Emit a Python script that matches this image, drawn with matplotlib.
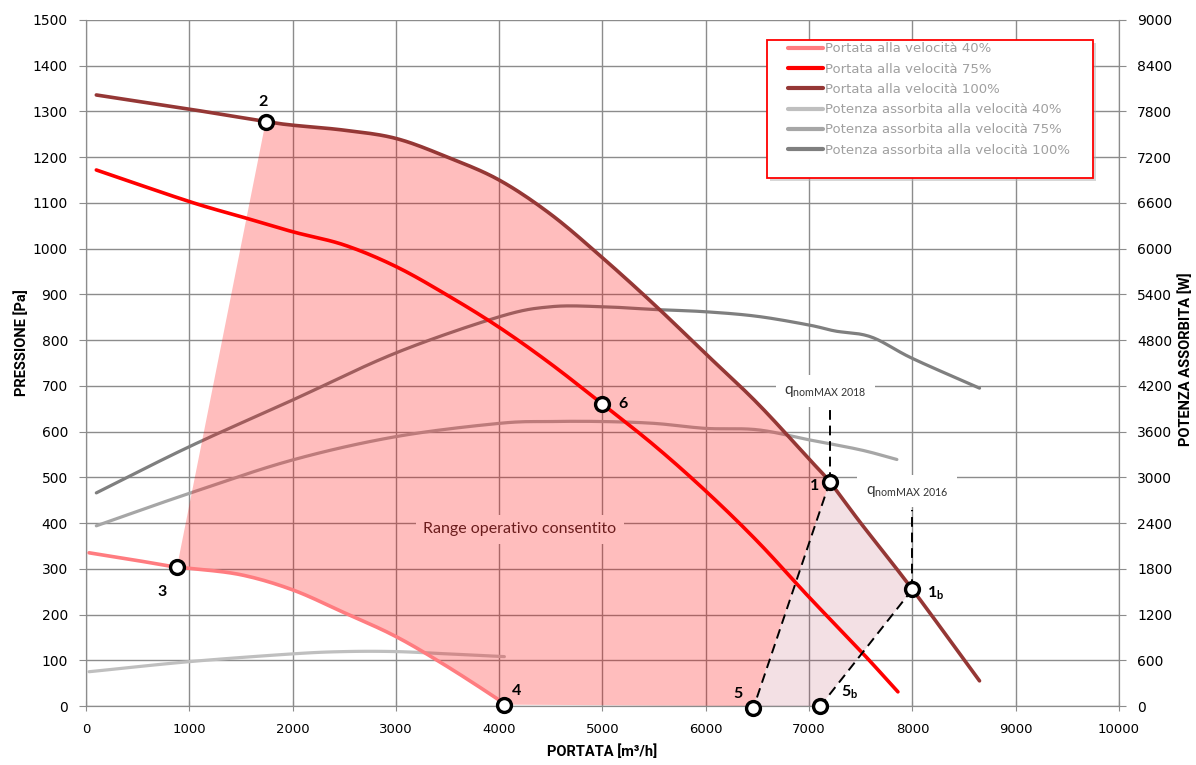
import numpy as np
import matplotlib
matplotlib.use('Agg')
from matplotlib import pyplot as plt
from matplotlib.patches import Rectangle

plt.rcParams['font.family'] = ['DejaVu Sans']
plt.rcParams['mathtext.fontset'] = 'custom'
plt.rcParams['mathtext.rm'] = 'Lato'
plt.rcParams['mathtext.it'] = 'Lato:italic'
plt.rcParams['mathtext.bf'] = 'Lato:bold'

# portata (pressione [Pa] vs portata [m3/h])
q40 = [30, 500, 880, 1000, 1500, 2000, 2500, 3000, 3500, 4000, 4050]
p40 = [335, 318, 303, 301, 287, 254, 204, 152, 86, 13, 3]
q75 = [100, 1000, 1500, 2000, 2500, 3000, 3500, 4000, 4500, 5000, 5500, 6000, 6500, 7000, 7500, 7860]
p75 = [1172, 1103, 1070, 1037, 1008, 961, 898, 828, 748, 660, 570, 470, 360, 238, 120, 31]
q100 = [100, 1000, 1740, 2000, 2500, 3000, 3500, 4000, 4500, 5000, 5500, 6000, 6500, 7000, 7200, 7500, 8000, 8650]
p100 = [1336, 1305, 1278, 1270, 1259, 1241, 1200, 1150, 1075, 980, 878, 770, 662, 540, 490, 400, 255, 55]

# potenza assorbita [W]
qw40 = [30, 1000, 2000, 2500, 3000, 3500, 4050]
w40 = [450, 582, 684, 714, 714, 684, 648]
qw75 = [100, 1000, 2000, 3000, 4000, 4500, 5000, 5500, 6000, 6500, 7000, 7500, 7850]
w75 = [2364, 2790, 3228, 3534, 3708, 3732, 3732, 3708, 3642, 3624, 3492, 3360, 3234]
qw100 = [100, 1000, 2000, 3000, 4000, 4500, 5000, 5500, 6000, 6500, 7000, 7250, 7600, 8000, 8650]
w100 = [2796, 3402, 4014, 4632, 5106, 5238, 5238, 5202, 5172, 5112, 4998, 4920, 4842, 4560, 4170]

# punti di lavoro
pt_names = ['1', '1b', '2', '3', '4', '5', '5b', '6']
pt_q = [7200, 8000, 1740, 880, 4050, 6460, 7110, 5000]
pt_p = [490, 255, 1278, 303, 3, -5, 0, 660]
pt_lab = ['1', r'1$_{\mathbf{b}}$', '2', '3', '4', '5', r'5$_{\mathbf{b}}$', '6']
pt_off = [(-11, -3), (17, -3), (-2, 14), (-11, -18), (9, 10), (-11, 10), (21, 10), (15, 0)]

# limiti qnomMAX
qnom_q = [7200, 8000]
qnom_top = [647, 429]
qnom_lab = [r'q$_{\mathrm{nomMAX\ 2018}}$', r'q$_{\mathrm{nomMAX\ 2016}}$']
qnom_y = [688, 470]

leg_labels = ['Portata alla velocità 40%', 'Portata alla velocità 75%', 'Portata alla velocità 100%',
              'Potenza assorbita alla velocità 40%', 'Potenza assorbita alla velocità 75%',
              'Potenza assorbita alla velocità 100%']


def smooth(x, y, n=16):
    # linea smussata tipo Excel (Catmull-Rom) passante per i punti
    pts = np.column_stack([x, y]).astype(float)
    pts = np.vstack([2 * pts[0] - pts[1], pts, 2 * pts[-1] - pts[-2]])
    t = np.linspace(0, 1, n, endpoint=False)[:, None]
    out = []
    for i in range(1, len(pts) - 2):
        p0, p1, p2, p3 = pts[i - 1], pts[i], pts[i + 1], pts[i + 2]
        seg = 0.5 * ((2 * p1) + (-p0 + p2) * t + (2 * p0 - 5 * p1 + 4 * p2 - p3) * t ** 2
                     + (-p0 + 3 * p1 - 3 * p2 + p3) * t ** 3)
        out.append(seg)
    out.append(pts[-2][None, :])
    out = np.vstack(out)
    return out[:, 0], out[:, 1]


fig = plt.figure(figsize=(11.96, 7.65), dpi=100)
fig.subplots_adjust(left=0.0719, right=0.9356, bottom=0.0771, top=0.9739)
axw = fig.add_subplot(111)
axp = axw.twinx()
axw.yaxis.tick_right()
axw.yaxis.set_label_position('right')
axp.yaxis.tick_left()
axp.yaxis.set_label_position('left')

gridc = '#8c8c8c'
axw.set_xlim(0, 10000)
axw.set_xticks(np.arange(0, 10001, 1000))
axw.set_ylim(0, 9000)
axw.set_yticks(np.arange(0, 9001, 600))
axp.set_ylim(0, 1500)
axp.set_yticks(np.arange(0, 1501, 100))
axw.grid(True, color=gridc, lw=1.0)
axw.set_axisbelow(True)

for a in (axw, axp):
    for s in a.spines.values():
        s.set_color(gridc)
    a.spines['top'].set_visible(False)
axw.tick_params(axis='y', direction='out', length=5, color=gridc, labelsize=10, pad=8)
axp.tick_params(axis='y', direction='out', length=5, color=gridc, labelsize=10, pad=8)
axw.tick_params(axis='x', direction='inout', length=7, color=gridc, labelsize=9.5, pad=9)

# curve potenza (sotto le aree)
lw40, = axw.plot(*smooth(qw40, w40), color='#bfbfbf', lw=2.3, solid_capstyle='round')
lw75, = axw.plot(*smooth(qw75, w75), color='#a6a6a6', lw=2.3, solid_capstyle='round')
lw100, = axw.plot(*smooth(qw100, w100), color='#7f7f7f', lw=2.3, solid_capstyle='round')

# aree di funzionamento
P = dict(zip(pt_names, zip(pt_q, pt_p)))
s100x, s100y = smooth(q100, p100)
s40x, s40y = smooth(q40, p40)
m = (s100x > P['2'][0]) & (s100x < P['1'][0])
m40 = (s40x > P['3'][0]) & (s40x < P['4'][0])
rx = [P['3'][0], P['2'][0]] + list(s100x[m]) + [P['1'][0], P['5'][0], P['4'][0]] + list(s40x[m40][::-1])
ry = [P['3'][1], P['2'][1]] + list(s100y[m]) + [P['1'][1], 0, P['4'][1]] + list(s40y[m40][::-1])
axp.fill(rx, ry, color='#ff0000', alpha=0.26, lw=0, zorder=1)
mb = (s100x > P['1'][0]) & (s100x < P['1b'][0])
bx = [P['5'][0], P['1'][0]] + list(s100x[mb]) + [P['1b'][0], P['5b'][0]]
by = [0, P['1'][1]] + list(s100y[mb]) + [P['1b'][1], 0]
axp.fill(bx, by, color='#b03050', alpha=0.15, lw=0, zorder=1)

# curve portata
l40, = axp.plot(s40x, s40y, color='#ff7c80', lw=2.6, zorder=3, solid_capstyle='round')
l75, = axp.plot(*smooth(q75, p75), color='#ff0000', lw=2.6, zorder=3, solid_capstyle='round')
l100, = axp.plot(s100x, s100y, color='#953735', lw=2.6, zorder=3, solid_capstyle='round')

# linee tratteggiate
axp.plot([P['1'][0], P['5'][0]], [P['1'][1], P['5'][1]], color='black', lw=1.4, ls=(0, (5, 3)), zorder=3)
axp.plot([P['1b'][0], P['5b'][0]], [P['1b'][1], P['5b'][1]], color='black', lw=1.4, ls=(0, (5, 3)), zorder=3)
for qq, top, pp in zip(qnom_q, qnom_top, [P['1'][1], P['1b'][1]]):
    axp.plot([qq, qq], [pp, top], color='black', lw=1.4, ls=(0, (5, 3)), zorder=3)
for qq, yy, lab in zip(qnom_q, qnom_y, qnom_lab):
    axp.text(qq - 40 if qq < 7500 else qq - 50, yy, lab, ha='center', va='center', fontsize=11,
             family='Lato', color='#333333', zorder=4,
             bbox=dict(boxstyle='square,pad=0.55', fc='white', ec='none'))

axp.text(4200, 386, 'Range operativo consentito', ha='center', va='center', fontsize=11.5,
         family='Lato', color='#6b1d1d', zorder=4,
         bbox=dict(boxstyle='square,pad=0.45', fc='#ffbdbd', ec='none'))

# punti
axp.plot(pt_q, pt_p, ls='none', marker='o', ms=10, mfc='white', mec='black', mew=2.4,
         zorder=6, clip_on=False)
for qq, pp, lab, off in zip(pt_q, pt_p, pt_lab, pt_off):
    axp.annotate(lab, (qq, pp), xytext=off, textcoords='offset points', ha='center', va='center',
                 fontsize=11.5, family='Lato', fontweight='bold', color='black', zorder=6,
                 annotation_clip=False)

# etichette assi
lab_font = dict(family=['Liberation Sans Narrow', 'Roboto', 'DejaVu Sans'], fontweight='bold',
                fontsize=10.5)
axw.set_xlabel('PORTATA [m³/h]', labelpad=6, **lab_font)
axp.set_ylabel('PRESSIONE [Pa]', **lab_font)
axw.set_ylabel('POTENZA ASSORBITA [W]', rotation=90, **lab_font)
axp.yaxis.set_label_coords(-0.055, 0.53)
axw.yaxis.set_label_coords(1.057, 0.505)

# legenda
sh = Rectangle((0.662, 0.766), 0.316, 0.201, transform=axp.transAxes, fc='#b0b0b0', ec='none',
               alpha=0.5, zorder=7)
axp.add_patch(sh)
box = Rectangle((0.659, 0.770), 0.316, 0.201, transform=axp.transAxes, fc='white', ec='#ff0000',
                lw=1.3, zorder=7)
axp.add_patch(box)
leg = axp.legend([l40, l75, l100, lw40, lw75, lw100], leg_labels, loc='upper left',
                 bbox_to_anchor=(0.6747, 0.975), frameon=False, fontsize=9.5, handlelength=2.6,
                 handletextpad=0.15, labelspacing=0.55, borderaxespad=0)
for t in leg.get_texts():
    t.set_color('#a0a0a0')
for h in leg.get_lines():
    h.set_linewidth(3.0)
leg.set_zorder(8)

fig.savefig('out.png', dpi=100)
